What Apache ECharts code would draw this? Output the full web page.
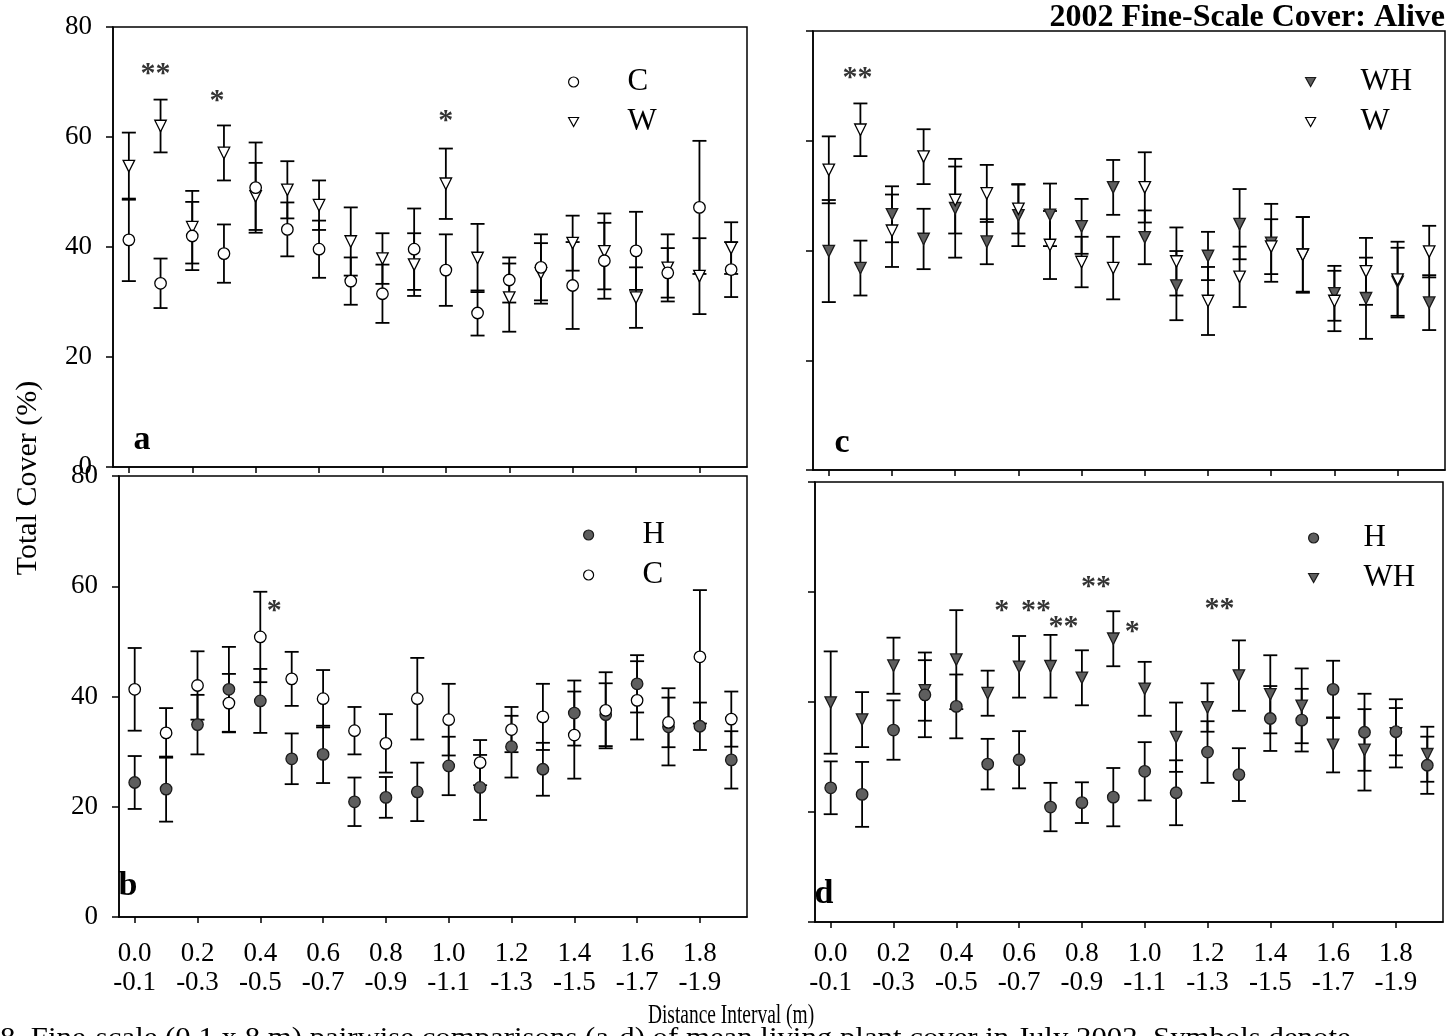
<!DOCTYPE html>
<html><head><meta charset="utf-8">
<script src="https://cdn.jsdelivr.net/npm/echarts@6/dist/echarts.min.js"></script>
<style>html,body{margin:0;padding:0;background:#fff}#c{width:1449px;height:1036px}</style>
</head><body><div id="c"></div>
<script>
// ---------- data ----------
const categories = ['0.0-0.1','0.1-0.2','0.2-0.3','0.3-0.4','0.4-0.5','0.5-0.6','0.6-0.7','0.7-0.8','0.8-0.9','0.9-1.0',
                    '1.0-1.1','1.1-1.2','1.2-1.3','1.3-1.4','1.4-1.5','1.5-1.6','1.6-1.7','1.7-1.8','1.8-1.9','1.9-2.0'];
const yTicks = [0, 20, 40, 60, 80];
const C_mean  = [41.3,33.4,42.0,38.8,50.8,43.2,39.6,33.8,31.5,39.6,35.8,28.0,34.0,36.3,33.0,37.5,39.3,35.3,47.2,35.9];
const C_err   = [7.5,4.5,6.2,5.3,8.2,4.9,5.2,4.3,5.3,7.4,6.5,4.1,4.1,6.0,7.9,6.9,7.1,4.5,12.1,5.0];
const W_mean  = [54.7,62.0,43.6,57.1,49.2,50.4,47.6,41.0,37.9,36.8,51.5,38.0,30.8,35.2,40.7,39.2,30.8,36.2,34.7,39.8];
const W_err   = [6.1,4.8,6.6,5.0,6.1,5.2,4.5,6.2,4.6,5.7,6.4,6.2,6.2,5.5,5.0,6.9,5.5,6.1,6.9,4.7];
const H_mean  = [24.4,23.2,34.9,41.3,39.2,28.7,29.5,20.9,21.7,22.7,27.4,23.5,30.9,26.8,37.0,36.7,42.3,34.5,34.6,28.5];
const H_err   = [4.8,5.9,5.4,7.7,5.8,4.6,5.2,4.4,3.7,5.3,5.3,5.9,5.6,4.8,5.9,5.7,5.2,7.0,4.3,5.2];
const WH_mean = [39.9,36.8,46.6,42.1,47.7,41.6,46.4,46.5,44.4,51.5,42.4,33.6,39.0,44.8,41.4,39.3,32.2,31.3,34.3,30.5];
const WH_err  = [9.3,5.0,5.1,5.5,9.0,4.1,5.6,5.7,5.0,5.0,4.9,6.3,4.4,6.4,7.1,6.8,5.0,7.4,6.2,5.0];
// significance marks: [category index, value, text]
const stars_a = [[1,71.4,'**'],[3,66.5,'*'],[10,62.8,'*']];
const stars_b = [[4,55.5,'*']];
const stars_c = [[1,71.4,'**']];
const stars_d = [[5,56.5,'*'],[6,56.5,'**'],[7,53.6,'**'],[8,60.8,'**'],[9,52.6,'*'],[12,56.8,'**']];

// ---------- styles ----------
const FONT = '"Liberation Serif","Times New Roman",serif';
const starDx = {a:[-5,-7,0], b:[14], c:[-3], d:[14,17,13,14,19,12]};
const DOWN_TRI = 'path://M0,0L10,0L5,9Z';
const styles = {
  C:  {symbol:'circle',   rot:0,   fill:'#ffffff', stroke:'#000'},
  W:  {symbol:'triangle', rot:180, fill:'#ffffff', stroke:'#000'},
  H:  {symbol:'circle',   rot:0,   fill:'#5e5e5e', stroke:'#1a1a1a'},
  WH: {symbol:'triangle', rot:180, fill:'#5e5e5e', stroke:'#1a1a1a'}
};
const dataOf = {C:[C_mean,C_err], W:[W_mean,W_err], H:[H_mean,H_err], WH:[WH_mean,WH_err]};

const panels = [
  {id:'a', grid:{left:113, top:27, width:634, height:440}, s:['W','C'], yLab:true,  xLab:false, xMargin:22, stars:stars_a},
  {id:'b', grid:{left:119, top:476, width:628, height:441}, s:['H','C'], yLab:true,  xLab:true,  xMargin:22, stars:stars_b},
  {id:'c', grid:{left:813, top:31, width:632, height:439}, s:['WH','W'], yLab:false, xLab:false, xMargin:22, stars:stars_c},
  {id:'d', grid:{left:815, top:482, width:628, height:440}, s:['WH','H'], yLab:false, xLab:true,  xMargin:17, stars:stars_d}
];

function errRender(params, api) {
  const x = api.value(0), m = api.value(1), e = api.value(2);
  const t = api.coord([x, m + e]), b = api.coord([x, m - e]);
  const hw = 7, st = {stroke:'#000', lineWidth:1.8};
  return {type:'group', children:[
    {type:'line', shape:{x1:t[0], y1:t[1], x2:b[0], y2:b[1]}, style:st},
    {type:'line', shape:{x1:t[0]-hw, y1:t[1], x2:t[0]+hw, y2:t[1]}, style:st},
    {type:'line', shape:{x1:b[0]-hw, y1:b[1], x2:b[0]+hw, y2:b[1]}, style:st}
  ]};
}

const grid = [], xAxis = [], yAxis = [], series = [];
panels.forEach((p, i) => {
  grid.push(Object.assign({show:true, borderColor:'#000', borderWidth:1.5, backgroundColor:'#fff'}, p.grid));
  xAxis.push({type:'category', gridIndex:i, data:categories, boundaryGap:true,
    axisLine:{lineStyle:{color:'#000', width:1.5}},
    axisTick:{show:true, alignWithLabel:true, interval:1, length:6, lineStyle:{color:'#000', width:1.5}},
    axisLabel:{show:p.xLab, interval:1, color:'#000', fontFamily:FONT, fontSize:27, lineHeight:29, margin:p.xMargin,
      formatter: v => v.replace('-', '\n-')},
    splitLine:{show:false}});
  yAxis.push({type:'value', gridIndex:i, min:yTicks[0], max:yTicks[yTicks.length-1], interval:yTicks[1]-yTicks[0],
    axisLine:{show:true, lineStyle:{color:'#000', width:1.5}},
    axisTick:{show:true, length:7, lineStyle:{color:'#000', width:1.5}},
    axisLabel:{show:p.yLab, color:'#000', fontFamily:FONT, fontSize:27, margin:21},
    splitLine:{show:false}});
  p.s.forEach(name => {
    const [m, e] = dataOf[name];
    series.push({type:'custom', name:name+'-err-'+p.id, xAxisIndex:i, yAxisIndex:i, z:2,
      renderItem:errRender, data:m.map((v, k) => [k, v, e[k]]), encode:{x:0, y:1}, silent:true});
  });
  p.s.forEach(name => {
    const st = styles[name];
    series.push({type:'scatter', name:name, xAxisIndex:i, yAxisIndex:i, z:3,
      symbol:st.symbol, symbolRotate:st.rot, symbolSize:11.5,
      itemStyle:{color:st.fill, borderColor:st.stroke, borderWidth:1.3, opacity:1},
      data:dataOf[name][0]});
  });
  series.push({type:'scatter', name:'sig-'+p.id, xAxisIndex:i, yAxisIndex:i, z:4, symbolSize:1,
    itemStyle:{color:'rgba(0,0,0,0)'}, silent:true,
    data:p.stars.map((s, k) => ({value:[s[0], s[1]], name:s[2],
      label:{show:true, formatter:s[2], position:'inside', offset:[starDx[p.id][k], 0],
        color:'#000', fontFamily:FONT, fontSize:30, fontWeight:'bold'}}))});
});

function legendAt(names, left, top, pad) {
  return {orient:'vertical', left:left, top:top, itemWidth:10, itemHeight:10, itemGap:8,
    selectedMode:false,
    data:names.map(n => ({name:n, icon: styles[n].symbol === 'triangle' ? DOWN_TRI : 'circle',
      itemStyle:{color:styles[n].fill, borderColor:styles[n].stroke, borderWidth:1.2}})),
    textStyle:{color:'#000', fontFamily:FONT, fontSize:31, lineHeight:32, padding:[0,0,0,pad]}};
}

const option = {
  backgroundColor:'#fff', animation:false,
  grid, xAxis, yAxis, series,
  legend:[
    legendAt(['C','W'], 563, 61, 44),
    legendAt(['H','C'], 578, 514, 44),
    legendAt(['WH','W'], 1300, 61, 40),
    legendAt(['H','WH'], 1303, 517, 40)
  ],
  graphic:[
    {type:'text', x:1445, y:18, style:{text:'2002 Fine-Scale Cover: Alive', font:'bold 32px '+FONT, fill:'#000', textAlign:'right', textVerticalAlign:'middle'}},
    {type:'text', x:142, y:440, style:{text:'a', font:'bold 34px '+FONT, fill:'#000', textAlign:'center', textVerticalAlign:'middle'}},
    {type:'text', x:128, y:886, style:{text:'b', font:'bold 34px '+FONT, fill:'#000', textAlign:'center', textVerticalAlign:'middle'}},
    {type:'text', x:842, y:443, style:{text:'c', font:'bold 34px '+FONT, fill:'#000', textAlign:'center', textVerticalAlign:'middle'}},
    {type:'text', x:824, y:894, style:{text:'d', font:'bold 34px '+FONT, fill:'#000', textAlign:'center', textVerticalAlign:'middle'}},
    {type:'text', x:28, y:478, rotation:Math.PI/2, style:{text:'Total Cover (%)', font:'30px '+FONT, fill:'#000', textAlign:'center', textVerticalAlign:'middle'}},
    {type:'text', x:731, y:1016, scaleX:0.72, style:{text:'Distance Interval (m)', font:'27px '+FONT, fill:'#000', textAlign:'center', textVerticalAlign:'middle'}},
    {type:'text', x:0, y:1025, scaleX:1.1, style:{text:'8. Fine-scale (0.1 x 8 m) pairwise comparisons (a-d) of mean living plant cover in July 2002. Symbols denote', font:'28px '+FONT, fill:'#000', textAlign:'left', textVerticalAlign:'top'}}
  ]
};
const chart = echarts.init(document.getElementById('c'), null, {renderer:'canvas'});
chart.setOption(option);
</script>
</body></html>
